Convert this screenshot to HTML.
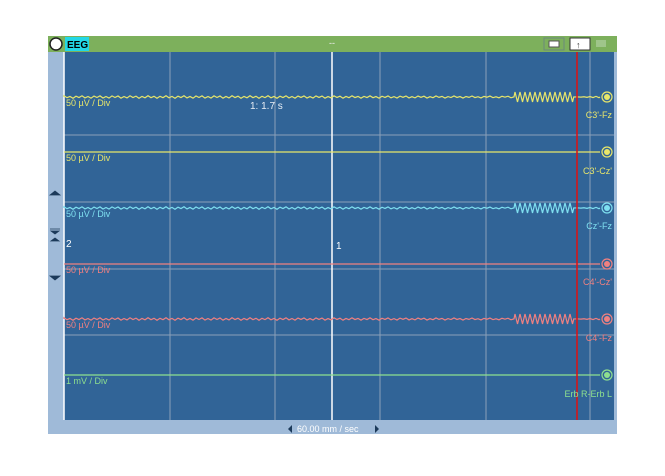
<!DOCTYPE html>
<html><head><meta charset="utf-8"><style>
html,body{margin:0;padding:0;background:#fff;}
body{width:665px;height:471px;position:relative;overflow:hidden;font-family:"Liberation Sans",sans-serif;}
</style></head><body>
<svg id="s" width="665" height="471" viewBox="0 0 665 471" xmlns="http://www.w3.org/2000/svg" font-family="Liberation Sans, sans-serif">
<rect x="48" y="36" width="569" height="398" fill="#9fbad8"/>
<rect x="48" y="36" width="569" height="16" fill="#7db05c"/>
<circle cx="56" cy="44" r="6" fill="#fff" stroke="#222" stroke-width="1.5"/>
<rect x="65" y="37" width="24" height="14" fill="#22d8e6"/>
<text x="67" y="48" font-size="10" font-weight="bold" fill="#000">EEG</text>
<text x="329" y="46" font-size="9" fill="#eee">--</text>
<rect x="544" y="38" width="20" height="12" fill="#7db05c" stroke="#6c8a7c"/>
<rect x="549" y="41" width="10" height="6" fill="#fff" stroke="#555"/>
<rect x="570" y="38" width="20" height="12" fill="#fff" stroke="#333"/>
<text x="576" y="48" font-size="9" fill="#333">↑</text>
<rect x="596" y="40" width="10" height="7" fill="#9fc58a"/>
<rect x="64" y="52" width="550" height="368" fill="#316497"/>
<g stroke="#8aa0b8" stroke-width="1">
<line x1="170" y1="52" x2="170" y2="420"/><line x1="275" y1="52" x2="275" y2="420"/>
<line x1="380" y1="52" x2="380" y2="420"/><line x1="486" y1="52" x2="486" y2="420"/>
<line x1="590" y1="52" x2="590" y2="420"/>
<line x1="64" y1="135" x2="614" y2="135"/><line x1="64" y1="202" x2="614" y2="202"/>
<line x1="64" y1="269" x2="614" y2="269"/><line x1="64" y1="335" x2="614" y2="335"/>
</g>
<line x1="64" y1="52" x2="64" y2="420" stroke="#fff" stroke-width="1.5"/>
<line x1="332" y1="52" x2="332" y2="420" stroke="#fff" stroke-width="1.5"/>
<g id="tr"></g>
<line x1="577" y1="52" x2="577" y2="420" stroke="#e01010" stroke-width="1.5"/>
<g font-size="9">
<text x="66" y="106" fill="#e8e66a">50 µV / Div</text>
<text x="66" y="161" fill="#e8e66a">50 µV / Div</text>
<text x="66" y="217" fill="#7fe0f0">50 µV / Div</text>
<text x="66" y="273" fill="#f08080">50 µV / Div</text>
<text x="66" y="328" fill="#f08080">50 µV / Div</text>
<text x="66" y="384" fill="#8ee08e">1 mV / Div</text>
<text x="250" y="109" fill="#e8eef5" font-size="10">1: 1.7 s</text>
<text x="66" y="247" fill="#fff" font-size="10">2</text>
<text x="336" y="249" fill="#fff" font-size="10">1</text>
<text x="612" y="118" fill="#e8e66a" text-anchor="end">C3'-Fz</text>
<text x="612" y="174" fill="#e8e66a" text-anchor="end">C3'-Cz'</text>
<text x="612" y="229" fill="#7fe0f0" text-anchor="end">Cz'-Fz</text>
<text x="612" y="285" fill="#f08080" text-anchor="end">C4'-Cz'</text>
<text x="612" y="341" fill="#f08080" text-anchor="end">C4'-Fz</text>
<text x="612" y="397" fill="#8ee08e" text-anchor="end">Erb R-Erb L</text>
<text x="297" y="432" fill="#fff">60.00 mm / sec</text>
</g>
<path d="M292 425 l-4 4 l4 4z M375 425 l4 4 l-4 4z" fill="#1c3a5a"/>
<path d="M50 195 l5 -4 l5 4z M50 276 l5 4 l5 -4z M50 229 h10 M51 231 l4 3 l4 -3z M51 241 l4 -3 l4 3z" fill="#1c3a5a" stroke="#1c3a5a" stroke-width="0.8"/>
</svg>
<script>
var g=document.getElementById('tr'),ns='http://www.w3.org/2000/svg';
function add(y,c,small,big,flat){
 var d='M64 '+y;
 if(flat){d+=' L600 '+y;}
 else{
  for(var x=64;x<515;x+=3){d+=' L'+x+' '+(y+(Math.sin(x*1.05)*0.9+Math.sin(x*0.37)*0.4)*small);}
  for(var x=515;x<575;x+=1.25){var k=Math.round((x-515)/1.25)%4;d+=' L'+x+' '+(y+(k==0?-big:k==2?big:0));}
  for(var x=575;x<600;x+=3){d+=' L'+x+' '+(y+Math.sin(x)*0.8);}
  d+=' L600 '+y;
 }
 var p=document.createElementNS(ns,'path');p.setAttribute('d',d);p.setAttribute('fill','none');
 p.setAttribute('stroke',c);p.setAttribute('stroke-width','1.2');g.appendChild(p);
 var o=document.createElementNS(ns,'circle');o.setAttribute('cx',607);o.setAttribute('cy',y);o.setAttribute('r',5);
 o.setAttribute('fill','none');o.setAttribute('stroke',c);o.setAttribute('stroke-width','1.2');g.appendChild(o);
 var i=document.createElementNS(ns,'circle');i.setAttribute('cx',607);i.setAttribute('cy',y);i.setAttribute('r',3);
 i.setAttribute('fill',c);g.appendChild(i);
}
add(97,'#e8e66a',1,5,false);
add(152,'#e8e66a',0,0,true);
add(208,'#7fe0f0',1,5,false);
add(264,'#f08080',0,0,true);
add(319,'#f08080',1,5,false);
add(375,'#8ee08e',0,0,true);
</script>
</body></html>
